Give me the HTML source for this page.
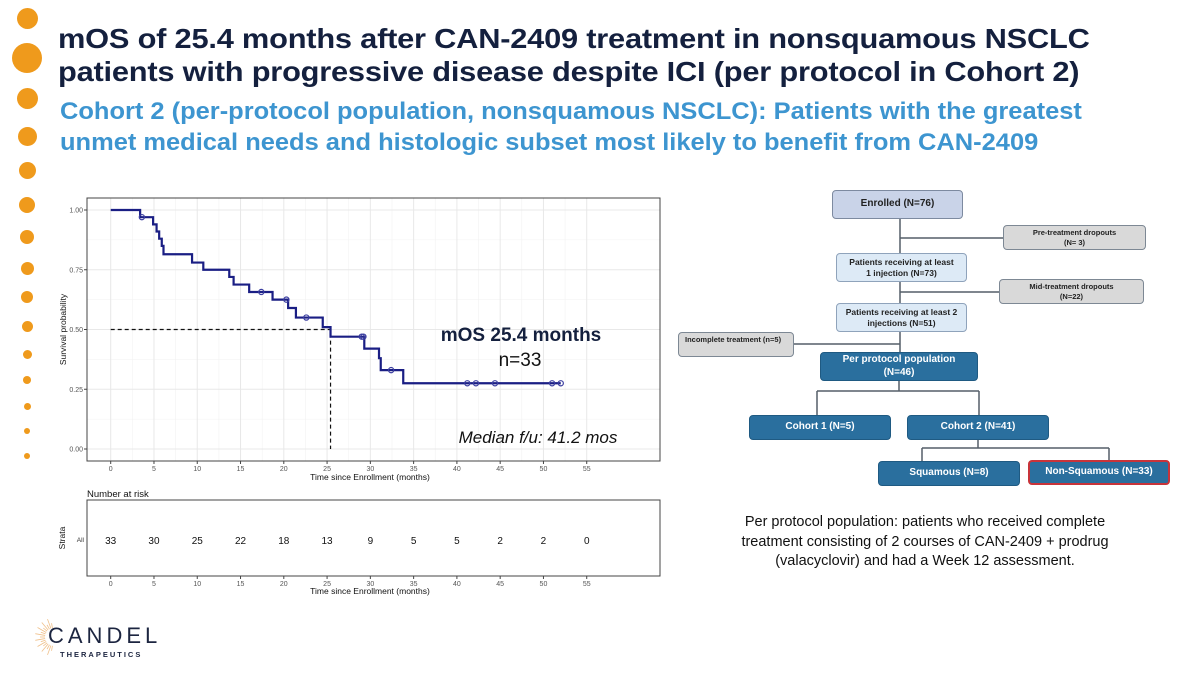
<!DOCTYPE html>
<html><head><meta charset="utf-8"><style>
body{margin:0;width:1200px;height:675px;background:#fff;overflow:hidden;font-family:"Liberation Sans",sans-serif;position:relative}
.abs{position:absolute}
.t1{left:58px;top:22px;font-size:28px;font-weight:bold;color:#14203e;line-height:33px;letter-spacing:-0.2px;transform:scaleX(1.1);transform-origin:0 0;white-space:nowrap}
.t2{left:60px;top:96px;font-size:24px;font-weight:bold;color:#3d95d0;line-height:31px;transform:scaleX(1.06);transform-origin:0 0;white-space:nowrap}
.box{position:absolute;box-sizing:border-box;border-radius:4px;display:flex;align-items:center;justify-content:center;text-align:center;font-weight:bold;line-height:1.25}
.g{background:#d9d9d9;border:1.5px solid #7d8894;font-size:7.5px;color:#222}
.lb{background:#ddeaf6;border:1.5px solid #8fa3bb;font-size:8.5px;color:#222}
.db{background:#2a6f9e;border:1.5px solid #1f5a82;color:#fff;font-size:10px}
</style></head><body>
<div id="dots"></div>
<div class="abs t1">mOS of 25.4 months after CAN-2409 treatment in nonsquamous NSCLC<br>patients with progressive disease despite ICI (per protocol in Cohort 2)</div>
<div class="abs t2">Cohort 2 (per-protocol population, nonsquamous NSCLC): Patients with the greatest<br>unmet medical needs and histologic subset most likely to benefit from CAN-2409</div>

<svg class="abs" style="left:0;top:0" width="680" height="600" id="km"></svg>

<svg class="abs" style="left:0;top:0;pointer-events:none" width="1200" height="500">
<g stroke="#555e68" stroke-width="1.5" fill="none">
<path d="M900 219V352M900 238H1003M900 292H999M794 344H900"/>
<path d="M899 381V391M817 391H979M817 391V415M979 391V415"/>
<path d="M978 440V448M922 448H1109M922 448V461M1109 448V460"/>
</g></svg>
<div class="box" style="left:832px;top:190px;width:131px;height:29px;background:#c9d3e8;border:1.5px solid #7d8aa0;font-size:10px;color:#222">Enrolled (N=76)</div>
<div class="box g" style="left:1003px;top:225px;width:143px;height:25px">Pre-treatment dropouts<br>(N= 3)</div>
<div class="box lb" style="left:836px;top:253px;width:131px;height:29px">Patients receiving at least<br>1 injection (N=73)</div>
<div class="box g" style="left:999px;top:279px;width:145px;height:25px">Mid-treatment dropouts<br>(N=22)</div>
<div class="box lb" style="left:836px;top:303px;width:131px;height:29px">Patients receiving at least 2<br>injections (N=51)</div>
<div class="box g" style="left:678px;top:332px;width:116px;height:25px;justify-content:flex-start;align-items:flex-start;padding:2px 6px">Incomplete treatment (n=5)</div>
<div class="box db" style="left:820px;top:352px;width:158px;height:29px">Per protocol population<br>(N=46)</div>
<div class="box db" style="left:749px;top:415px;width:142px;height:25px">Cohort 1 (N=5)</div>
<div class="box db" style="left:907px;top:415px;width:142px;height:25px">Cohort 2 (N=41)</div>
<div class="box db" style="left:878px;top:461px;width:142px;height:25px">Squamous (N=8)</div>
<div class="box db" style="left:1028px;top:460px;width:142px;height:25px;border:2px solid #c8343a">Non-Squamous (N=33)</div>

<div class="abs" style="left:715px;top:513px;width:420px;text-align:center;font-size:14.5px;line-height:19.5px;color:#111">Per protocol population: patients who received complete treatment consisting of 2 courses of CAN-2409 + prodrug (valacyclovir) and had a Week 12 assessment.</div>

<div class="abs" style="left:20px;top:615px;width:140px;height:50px">
<svg width="40" height="50" style="position:absolute;left:0;top:0"><g stroke="#f0c08a" stroke-width="0.8" id="rays"></g></svg>
<div style="position:absolute;left:28px;top:8px;font-size:22px;letter-spacing:4px;color:#1c2540">CANDEL</div>
<div style="position:absolute;left:40px;top:35px;font-size:7.5px;letter-spacing:2px;font-weight:bold;color:#1c2540">THERAPEUTICS</div>
</div>

<script>
const dotY=[18,58,98,136,170,205,237,268,297,326,354,380,406,431,456];
const dotD=[21,30,21,19,17,16,14,13,12,11,9,8,7,6,6];
const dc=document.getElementById('dots');
dotY.forEach((y,i)=>{const d=document.createElement('div');


d.style.cssText=`position:absolute;left:${27-dotD[i]/2}px;top:${y-dotD[i]/2}px;width:${dotD[i]}px;height:${dotD[i]}px;border-radius:50%;background:#ef9a1c`;dc.appendChild(d);});
const rays=document.getElementById('rays');
for(let a=100;a<=260;a+=10){const r=a*Math.PI/180;const l=document.createElementNS('http://www.w3.org/2000/svg','line');
const len=14+(a%20)/2;
l.setAttribute('x1',34+Math.cos(r)*9);l.setAttribute('y1',22+Math.sin(r)*9);l.setAttribute('x2',34+Math.cos(r)*len);l.setAttribute('y2',22+Math.sin(r)*len);rays.appendChild(l);}
</script>
<script>
// KM data
const stepTimes=[3.4,4.9,5.3,5.6,5.9,6.1,9.4,10.7,13.7,14.2,16.0,18.7,20.5,21.4,24.5,25.4,29.3,31.0,31.2,33.8];
const stepSurv=[0.97,0.94,0.91,0.88,0.85,0.815,0.78,0.75,0.72,0.688,0.657,0.625,0.59,0.55,0.51,0.47,0.42,0.38,0.33,0.275];
const censorTimes=[3.6,17.4,20.3,22.6,29.0,29.2,32.4,41.2,42.2,44.4,51.0,52.0];
const xTicks=[0,5,10,15,20,25,30,35,40,45,50,55];
const yTicks=[0,0.25,0.5,0.75,1.0];
const yTickLabels=["0.00","0.25","0.50","0.75","1.00"];
const atRisk=[33,30,25,22,18,13,9,5,5,2,2,0];
const medianOS=25.4;

const svg=document.getElementById('km');const NS='http://www.w3.org/2000/svg';
const X=t=>110.7+t*8.655;const Y=s=>449-s*239;
function el(tag,attrs,name,parent){const e=document.createElementNS(NS,tag);for(const k in attrs)e.setAttribute(k,attrs[k]);


(parent||svg).appendChild(e);return e;}
function txt(x,y,s,attrs,name){const e=el('text',Object.assign({x,y,'font-family':'Liberation Sans, sans-serif'},attrs),name);e.textContent=s;return e;}
const L=87,R=660,T=198,B=461;
for(let t=2.5;t<56;t+=5)el('line',{x1:X(t),x2:X(t),y1:T,y2:B,stroke:'#f2f2f2','stroke-width':0.6},'minor-grid');
for(let s=0.125;s<1;s+=0.25)el('line',{x1:L,x2:R,y1:Y(s),y2:Y(s),stroke:'#f2f2f2','stroke-width':0.6},'minor-grid');
xTicks.forEach(t=>{el('line',{x1:X(t),x2:X(t),y1:T,y2:B,stroke:'#e8e8e8','stroke-width':1},'x-grid');
el('line',{x1:X(t),x2:X(t),y1:B,y2:B+3,stroke:'#444'},'x-tick');
txt(X(t),B+10,String(t),{'font-size':7,'text-anchor':'middle',fill:'#555'},'x-tick-label');});
yTicks.forEach((s,i)=>{el('line',{x1:L,x2:R,y1:Y(s),y2:Y(s),stroke:'#e8e8e8','stroke-width':1},'y-grid');
el('line',{x1:L-3,x2:L,y1:Y(s),y2:Y(s),stroke:'#444'},'y-tick');
txt(L-4,Y(s)+2.5,yTickLabels[i],{'font-size':7,'text-anchor':'end',fill:'#555'},'y-tick-label');});
el('rect',{x:L,y:T,width:R-L,height:B-T,fill:'none',stroke:'#444','stroke-width':1},'plot-border');
txt(370,B+19,'Time since Enrollment (months)',{'font-size':8.5,'text-anchor':'middle',fill:'#111'},'x-axis-title');
txt(0,0,'Survival probability',{'font-size':8.5,'text-anchor':'middle',fill:'#111',transform:`translate(66,${(T+B)/2}) rotate(-90)`},'y-axis-title');
el('path',{d:`M${X(0)} ${Y(0.5)}H${X(medianOS)}V${Y(0)}`,stroke:'#111','stroke-width':1.2,fill:'none','stroke-dasharray':'4 3'},'median-guide');
let d=`M${X(0)} ${Y(1)}`;
stepTimes.forEach((t,i)=>{d+=`H${X(t)}V${Y(stepSurv[i])}`;});
d+=`H${X(Math.max(...censorTimes))}`;
el('path',{d,stroke:'#1a1e84','stroke-width':2.2,fill:'none'},'survival-curve');
function survAt(t){let v=1;stepTimes.forEach((st,i)=>{if(st<=t)v=stepSurv[i];});return v;}
censorTimes.forEach(t=>el('circle',{cx:X(t),cy:Y(survAt(t)),r:2.6,fill:'none',stroke:'#3b3ea0','stroke-width':1.2},'censor-mark'));
txt(521,341,'mOS 25.4 months',{'font-size':19,'font-weight':'bold','text-anchor':'middle',fill:'#14203e'},'mos-annotation');
txt(520,366,'n=33',{'font-size':19,'text-anchor':'middle',fill:'#111'},'n-annotation');
txt(538,443,'Median f/u: 41.2 mos',{'font-size':17,'font-style':'italic','text-anchor':'middle',fill:'#111'},'followup-annotation');
const RT=500,RB=576;
txt(87,497,'Number at risk',{'font-size':9.5,fill:'#111'},'risk-table-title');
el('rect',{x:L,y:RT,width:R-L,height:RB-RT,fill:'none',stroke:'#444'},'risk-table-border');
atRisk.forEach((n,i)=>txt(X(xTicks[i]),544,String(n),{'font-size':10,'text-anchor':'middle',fill:'#111'},'at-risk-count'));
txt(84,542,'All',{'font-size':6.5,'text-anchor':'end',fill:'#333'},'strata-label');
txt(0,0,'Strata',{'font-size':8.5,'text-anchor':'middle',fill:'#111',transform:'translate(65,538) rotate(-90)'},'strata-axis-title');
xTicks.forEach(t=>{el('line',{x1:X(t),x2:X(t),y1:RB,y2:RB+3,stroke:'#444'},'risk-x-tick');
txt(X(t),RB+10,String(t),{'font-size':7,'text-anchor':'middle',fill:'#555'},'risk-x-tick-label');});
txt(370,RB+18,'Time since Enrollment (months)',{'font-size':8.5,'text-anchor':'middle',fill:'#111'},'risk-x-axis-title');
</script>
</body></html>
